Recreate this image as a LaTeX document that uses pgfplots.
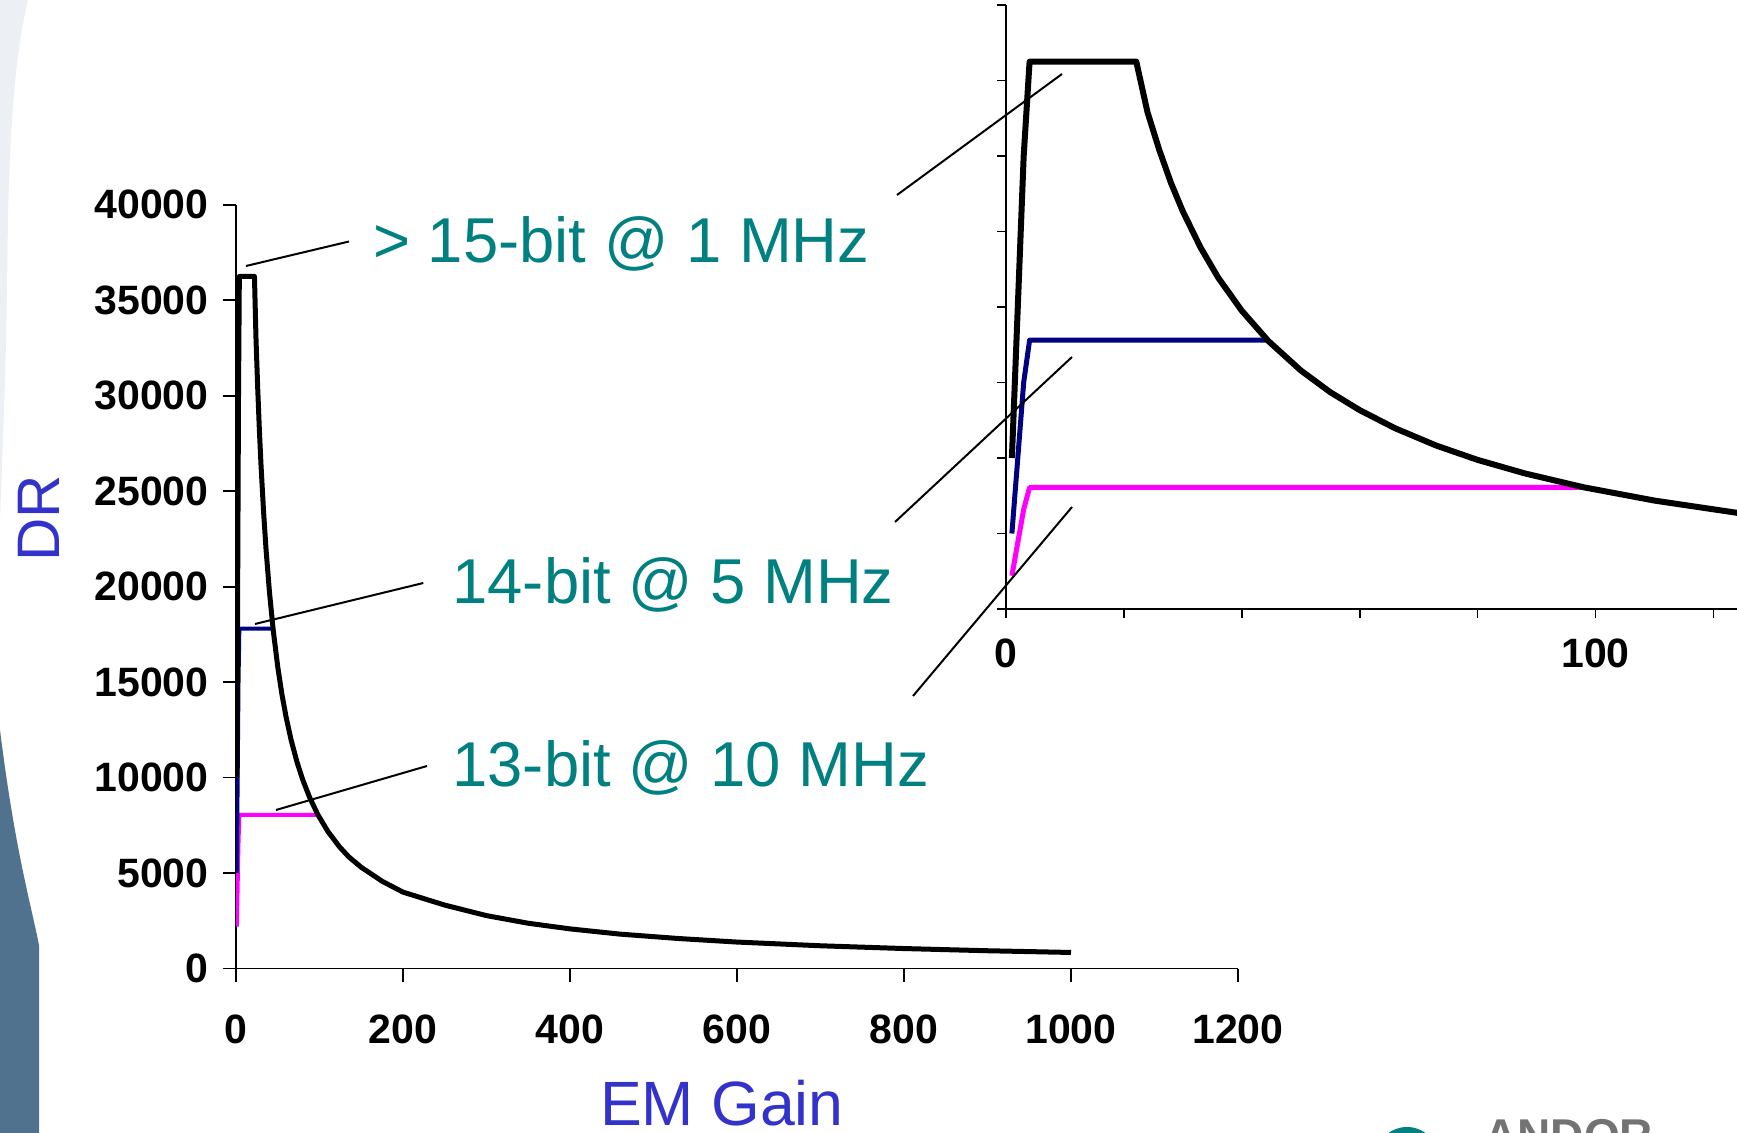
\documentclass[border=0pt]{standalone}
\usepackage{fontspec}
\setmainfont{Liberation Sans}
\usepackage{pgfplots}
\usepackage{pgfplotstable}
\pgfplotsset{compat=1.18}

\definecolor{tealtxt}{RGB}{0,128,128}
\definecolor{lbltxt}{RGB}{51,51,204}
\definecolor{navyline}{RGB}{0,0,128}
\definecolor{magline}{RGB}{255,0,255}
\definecolor{steel}{RGB}{80,114,143}
\definecolor{paleg}{RGB}{236,240,244}

% black: > 15-bit @ 1 MHz
\pgfplotstableread{
G DR
1 10000
2 20000
3 30000
4 36250
22.1 36250
24 32900
26 30400
28 28200
30 26330
33 23940
36 21940
40 19750
44.5 17750
50 15800
55 14360
60 13170
66 11970
73 10820
80 9875
88 8980
98 8060
110 7180
124 6370
135 5850
150 5300
175 4570
200 4000
250 3320
300 2770
350 2370
400 2075
460 1800
530 1570
600 1385
700 1190
800 1045
900 930
1000 840
}\blackdata

% navy: 14-bit @ 5 MHz
\pgfplotstableread{
G DR
1 5000
2 10000
3 15000
4 17800
44.5 17800
}\bluedata

% magenta: 13-bit @ 10 MHz
\pgfplotstableread{
G DR
1 2200
2 4400
3 6600
4 8050
98 8050
}\magdata

\begin{document}
\begin{tikzpicture}
\useasboundingbox (0,0) rectangle (868.5pt,-566.5pt);
\clip (0,0) rectangle (868.5pt,-566.5pt);

% background decoration at the left edge
\fill[paleg] (0,0) -- (14pt,0) .. controls (8pt,-25pt) and (5pt,-60pt) .. (4pt,-110pt)
   .. controls (3pt,-180pt) .. (0,-260pt) -- cycle;
\fill[steel] (0,-365pt) .. controls (7.5pt,-425pt) and (15pt,-450pt) .. (19.5pt,-472.5pt)
   -- (19.5pt,-566.5pt) -- (0,-566.5pt) -- cycle;

% logo remnants at the bottom right
\fill[tealtxt] (703.5pt,-575.5pt) ellipse [x radius=14pt, y radius=12pt];
\node[anchor=base west, inner sep=0pt, text=black!55, font=\fontsize{23pt}{27pt}\selectfont\bfseries]
  at (742pt,-576pt) {ANDOR};

% main chart
\begin{axis}[
  at={(118pt,-484.25pt)}, anchor=south west,
  scale only axis, width=501pt, height=381.85pt,
  xmin=0, xmax=1200, ymin=0, ymax=40000,
  axis x line*=bottom, axis y line*=left,
  axis line style={line width=0.85pt,-,black},
  xtick={0,200,...,1200}, ytick={0,5000,...,40000},
  tick align=outside, major tick length=6.5pt,
  tick style={line width=0.85pt, black},
  scaled ticks=false,
  /pgf/number format/.cd, 1000 sep={}, assume math mode=true, /pgfplots/.cd,
  tick label style={font=\fontsize{20.5pt}{24pt}\selectfont\bfseries},
  yticklabel style={inner sep=0pt, anchor=east, xshift=-7pt},
  xticklabel style={inner sep=0pt, anchor=north, yshift=-16.5pt},
]
\addplot[magline, line width=2pt, line join=round] table[x=G,y=DR] {\magdata};
\addplot[navyline, line width=2pt, line join=round] table[x=G,y=DR] {\bluedata};
\addplot[black, line width=2.5pt, line join=round] table[x=G,y=DR] {\blackdata};
\end{axis}

% inset (zoom on low gains)
\begin{axis}[
  at={(503pt,-304.5pt)}, anchor=south west,
  scale only axis, width=365.5pt, height=302pt,
  xmin=0, xmax=124, ymin=0, ymax=40000,
  axis x line*=bottom, axis y line*=left,
  axis line style={line width=0.85pt,-,black},
  xtick={0,20,...,120}, xticklabels={0,{},{},{},{},100,{}},
  ytick={0,5000,...,40000}, yticklabels={},
  tick align=outside, major tick length=4.5pt,
  tick style={line width=0.85pt, black},
  scaled ticks=false,
  /pgf/number format/.cd, 1000 sep={}, assume math mode=true, /pgfplots/.cd,
  tick label style={font=\fontsize{20.5pt}{24pt}\selectfont\bfseries},
  xticklabel style={inner sep=0pt, anchor=north, yshift=-10pt},
]
\addplot[magline, line width=2.5pt, line join=round] table[x=G,y=DR] {\magdata};
\addplot[navyline, line width=2.5pt, line join=round] table[x=G,y=DR] {\bluedata};
\addplot[black, line width=3pt, line join=round] table[x=G,y=DR] {\blackdata};
\end{axis}

% axis titles
\node[anchor=base, inner sep=0pt, text=lbltxt, font=\fontsize{31.3pt}{36pt}\selectfont]
  at (361pt,-562.5pt) {EM Gain};
\node[anchor=base, rotate=90, inner sep=0pt, text=lbltxt, font=\fontsize{30pt}{36pt}\selectfont]
  at (29.5pt,-259pt) {DR};

% annotations
\node[anchor=base west, inner sep=0pt, text=tealtxt, font=\fontsize{31.7pt}{36pt}\selectfont]
  at (186.5pt,-131.25pt) {> 15-bit @ 1 MHz};
\node[anchor=base west, inner sep=0pt, text=tealtxt, font=\fontsize{31.7pt}{36pt}\selectfont]
  at (226pt,-302pt) {14-bit @ 5 MHz};
\node[anchor=base west, inner sep=0pt, text=tealtxt, font=\fontsize{31.7pt}{36pt}\selectfont]
  at (226pt,-393.25pt) {13-bit @ 10 MHz};

% leader lines
\begin{scope}[line width=1pt, black]
\draw (123pt,-133pt) -- (174.5pt,-120.75pt);
\draw (127.5pt,-312pt) -- (211.65pt,-291.5pt);
\draw (138pt,-405pt) -- (213.5pt,-383pt);
\draw (448.5pt,-97.5pt) -- (531pt,-37pt);
\draw (447.5pt,-261pt) -- (536pt,-178.5pt);
\draw (456.5pt,-348pt) -- (536pt,-253.5pt);
\end{scope}
\end{tikzpicture}
\end{document}
